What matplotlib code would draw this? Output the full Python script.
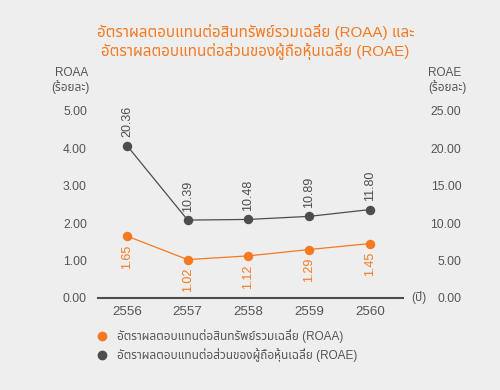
import matplotlib
matplotlib.use("Agg")
import matplotlib.pyplot as plt
from matplotlib.lines import Line2D

# ---------------------------------------------------------------------------
# Data
# ---------------------------------------------------------------------------
years = ["2556", "2557", "2558", "2559", "2560"]
roaa = [1.65, 1.02, 1.12, 1.29, 1.45]
roae = [20.36, 10.39, 10.48, 10.89, 11.80]
left_ticks = [0, 1, 2, 3, 4, 5]
right_ticks = [0, 5, 10, 15, 20, 25]

title_text = ("อัตราผลตอบแทนต่อสินทรัพย์รวมเฉลี่ย (ROAA) และ\n"
              "อัตราผลตอบแทนต่อส่วนของผู้ถือหุ้นเฉลี่ย (ROAE)")
roaa_name = "อัตราผลตอบแทนต่อสินทรัพย์รวมเฉลี่ย (ROAA)"
roae_name = "อัตราผลตอบแทนต่อส่วนของผู้ถือหุ้นเฉลี่ย (ROAE)"
unit_text = "(ร้อยละ)"

ORANGE = "#f47920"
DARK = "#4d4d4d"
TEXT = "#555555"
BG = "#eeeeee"

plt.rcParams["font.family"] = ["Liberation Sans", "Noto Sans Thai"]

fig = plt.figure(figsize=(5, 3.9), dpi=100, facecolor=BG)
ax = fig.add_axes([0.196, 0.2367, 0.61, 0.4787])
ax.set_facecolor("none")
ax2 = ax.twinx()
ax2.set_facecolor("none")

x = list(range(len(years)))

ax.plot(x, roaa, color=ORANGE, linewidth=0.9, marker="o", markersize=5.8,
        zorder=3, clip_on=False)
ax2.plot(x, roae, color=DARK, linewidth=0.9, marker="o", markersize=5.8,
         zorder=3, clip_on=False)

# value labels: ROAA below the point, ROAE above it, both rotated
for xi, v in zip(x, roaa):
    ax.annotate(f"{v:.2f}", (xi, v), xytext=(0, -6), textcoords="offset points",
                rotation=90, ha="center", va="top", color=ORANGE, fontsize=9,
                annotation_clip=False)
for xi, v in zip(x, roae):
    ax2.annotate(f"{v:.2f}", (xi, v), xytext=(0, 6), textcoords="offset points",
                 rotation=90, ha="center", va="bottom", color=DARK, fontsize=9,
                 annotation_clip=False)

ax.set_xlim(-0.477, 4.543)
ax.set_ylim(0, 5)
ax2.set_ylim(0, 25)
ax.set_xticks(x)
ax.set_xticklabels(years, fontsize=9.6, color=TEXT)
ax.set_yticks(left_ticks)
ax.set_yticklabels([f"{t:.2f}" for t in left_ticks], fontsize=8.7, color=TEXT)
ax2.set_yticks(right_ticks)
ax2.set_yticklabels([f"{t:.2f}" for t in right_ticks], fontsize=8.7,
                    color=TEXT, ha="right")

ax.tick_params(axis="both", length=0)
ax.tick_params(axis="y", pad=8)
ax.tick_params(axis="x", pad=6)
ax2.tick_params(axis="y", length=0, pad=42)

for a in (ax, ax2):
    for s in a.spines.values():
        s.set_visible(False)
ax.spines["bottom"].set_visible(True)
ax.spines["bottom"].set_color(DARK)
ax.spines["bottom"].set_linewidth(1.5)

# ── titles and axis captions ────────────────────────────────────────────────
fig.text(0.511, 0.893, title_text, ha="center", va="center", color=ORANGE,
         fontsize=10.9, linespacing=1.25)
fig.text(0.144, 0.812, "ROAA", ha="center", va="center", color=TEXT, fontsize=8.5)
fig.text(0.140, 0.778, unit_text, ha="center", va="center", color=TEXT, fontsize=8.5)
fig.text(0.890, 0.812, "ROAE", ha="center", va="center", color=TEXT, fontsize=8.5)
fig.text(0.894, 0.778, unit_text, ha="center", va="center", color=TEXT, fontsize=8.5)
fig.text(0.838, 0.237, "(ปี)", ha="center", va="center", color=TEXT, fontsize=8.5)

# ── legend ──────────────────────────────────────────────────────────────────
handles = [
    Line2D([], [], marker="o", linestyle="none", color=ORANGE, markersize=6),
    Line2D([], [], marker="o", linestyle="none", color=DARK, markersize=6),
]
fig.legend(handles, [roaa_name, roae_name], loc="upper left",
           bbox_to_anchor=(0.192, 0.156), frameon=False, fontsize=8.5,
           labelcolor=TEXT, handlelength=1.0, handletextpad=0.8,
           borderpad=0, borderaxespad=0, labelspacing=0.45)

fig.savefig("out.png", dpi=100, facecolor=BG)
